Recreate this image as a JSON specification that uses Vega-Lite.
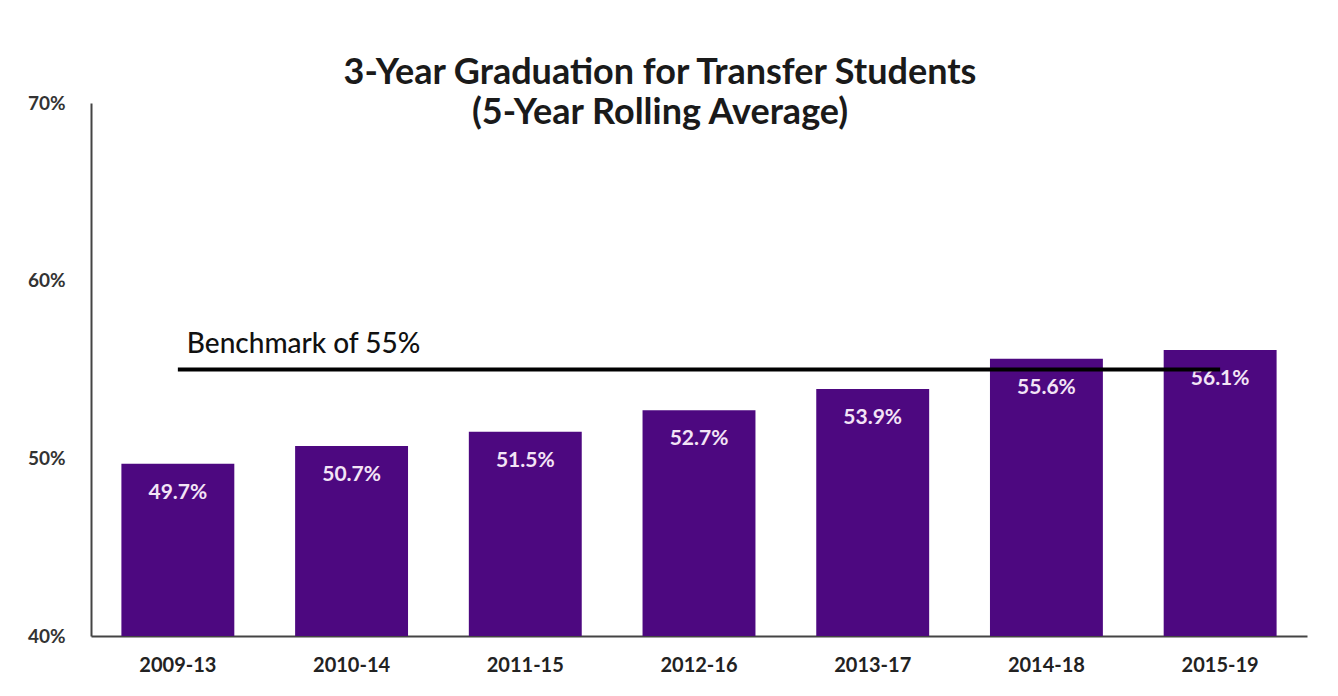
{
  "$schema": "https://vega.github.io/schema/vega-lite/v6.json",
  "autosize": "none",
  "width": 1216,
  "height": 533,
  "padding": {"left": 91, "top": 103, "right": 31, "bottom": 60},
  "background": "white",
  "config": {"view": {"stroke": null}, "font": "Lato"},
  "title": {
    "text": ["3-Year Graduation for Transfer Students", "(5-Year Rolling Average)"],
    "font": "Lato",
    "fontSize": 36,
    "fontWeight": "bold",
    "color": "#1a1a1a",
    "anchor": "middle",
    "dx": -39,
    "offset": -38,
    "lineHeight": 40
  },
  "data": {
    "values": [
      {"period": "2009-13", "rate": 49.7, "benchmark": 55},
      {"period": "2010-14", "rate": 50.7, "benchmark": 55},
      {"period": "2011-15", "rate": 51.5, "benchmark": 55},
      {"period": "2012-16", "rate": 52.7, "benchmark": 55},
      {"period": "2013-17", "rate": 53.9, "benchmark": 55},
      {"period": "2014-18", "rate": 55.6, "benchmark": 55},
      {"period": "2015-19", "rate": 56.1, "benchmark": 55}
    ]
  },
  "encoding": {
    "x": {
      "field": "period",
      "type": "nominal",
      "sort": null,
      "scale": {"paddingInner": 0.35, "paddingOuter": 0.175},
      "axis": {
        "title": null,
        "labelAngle": 0,
        "labelFont": "Lato",
        "labelFontSize": 20,
        "labelFontWeight": "bold",
        "labelColor": "#222222",
        "labelPadding": 19,
        "ticks": false,
        "domainColor": "#444444",
        "domainWidth": 2
      }
    }
  },
  "layer": [
    {
      "mark": {"type": "bar", "color": "#4d0880", "clip": true},
      "encoding": {
        "y": {
          "field": "rate",
          "type": "quantitative",
          "scale": {"domain": [40, 70], "zero": false, "nice": false},
          "axis": {
            "title": null,
            "values": [40, 50, 60, 70],
            "labelExpr": "datum.value + '%'",
            "labelFont": "Lato",
            "labelFontSize": 19,
            "labelFontWeight": "bold",
            "labelColor": "#333333",
            "labelPadding": 26,
            "ticks": false,
            "grid": false,
            "domainColor": "#444444",
            "domainWidth": 2
          }
        }
      }
    },
    {
      "transform": [{"calculate": "format(datum.rate, '.1f') + '%'", "as": "label"}],
      "mark": {"type": "text", "baseline": "middle", "dy": 29, "font": "Lato", "fontSize": 21, "fontWeight": "bold", "color": "#f3e4f6"},
      "encoding": {
        "y": {"field": "rate", "type": "quantitative"},
        "text": {"field": "label", "type": "nominal"}
      }
    },
    {
      "mark": {"type": "line", "color": "black", "strokeWidth": 4},
      "encoding": {
        "y": {"field": "benchmark", "type": "quantitative"}
      }
    },
    {
      "transform": [{"filter": "datum.period == '2009-13'"}],
      "mark": {"type": "text", "align": "left", "baseline": "alphabetic", "dx": 9, "dy": -17, "font": "Lato", "fontSize": 28, "fontWeight": 500, "color": "#111111", "text": "Benchmark of 55%"},
      "encoding": {
        "y": {"field": "benchmark", "type": "quantitative"}
      }
    }
  ]
}
